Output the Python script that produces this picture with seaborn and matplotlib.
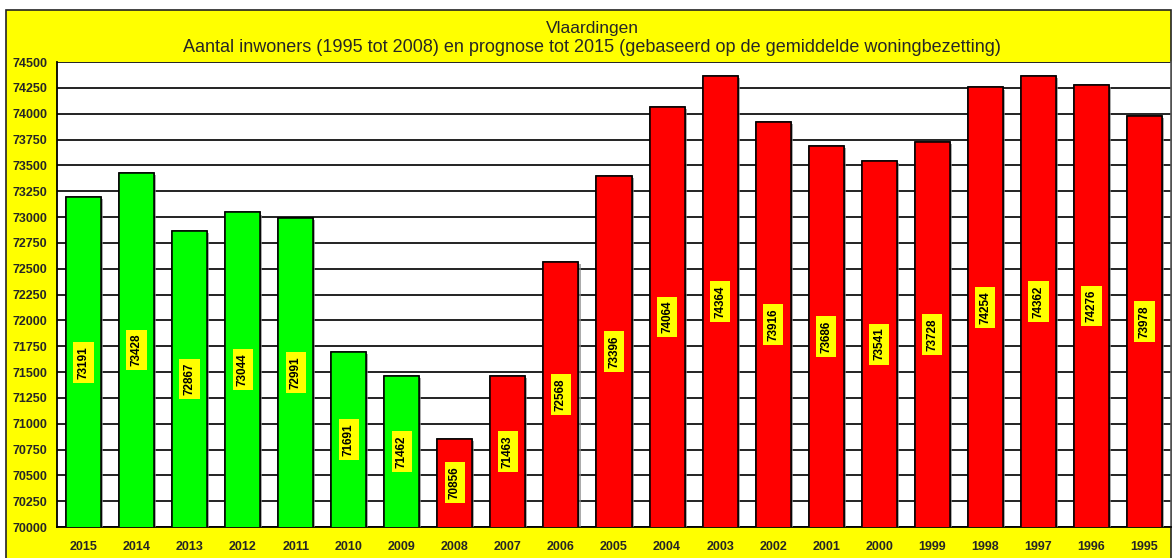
import matplotlib
matplotlib.use("Agg")
import matplotlib.pyplot as plt
import matplotlib.patches as mpatches
import matplotlib.patheffects as pe
import pandas as pd
import seaborn as sns

# data
jaren = ["2015", "2014", "2013", "2012", "2011", "2010", "2009", "2008", "2007", "2006", "2005",
         "2004", "2003", "2002", "2001", "2000", "1999", "1998", "1997", "1996", "1995"]
inwoners = [73191, 73428, 72867, 73044, 72991, 71691, 71462, 70856, 71463, 72568, 73396,
            74064, 74364, 73916, 73686, 73541, 73728, 74254, 74362, 74276, 73978]
soort = ["prognose"] * 7 + ["werkelijk"] * 14
kleuren = {"prognose": "#00FF00", "werkelijk": "#FF0000"}

titel = "Vlaardingen"
subtitel = "Aantal inwoners (1995 tot 2008) en prognose tot 2015 (gebaseerd op de gemiddelde woningbezetting)"

df = pd.DataFrame({"jaar": jaren, "inwoners": inwoners, "soort": soort})

sns.set_style("white")
plt.rcParams["font.family"] = ["Liberation Sans", "DejaVu Sans"]

W, H = 1174, 558
fig = plt.figure(figsize=(W / 100, H / 100), dpi=100)
fig.patch.set_facecolor("white")

# yellow chart frame
frame = mpatches.Rectangle((6 / W, -0.05), (1171 - 6) / W, (H - 10) / H + 0.05,
                           transform=fig.transFigure, facecolor="#FFFF00",
                           edgecolor="#222222", linewidth=1.2, zorder=-5)
fig.patches.append(frame)

left, right, top, bottom = 57, 1171, 62, 527
ax = fig.add_axes([left / W, 1 - bottom / H, (right - left) / W, (bottom - top) / H])
ax.set_zorder(2)
ax.set_facecolor("white")

sns.barplot(data=df, x="jaar", y="inwoners", hue="soort", palette=kleuren, dodge=False,
            saturation=1, width=0.66, edgecolor="black", linewidth=1.1, legend=False,
            ax=ax, zorder=3)
for bar in ax.patches:
    bar.set_path_effects([pe.withSimplePatchShadow(offset=(1.5, -1.5), shadow_rgbFace="#888888", alpha=0.7),
                          pe.Normal()])

ax.set_ylim(70000, 74500)
ax.set_xlim(-0.5, len(jaren) - 0.5)
ax.set_yticks(range(70000, 74501, 250))
ax.yaxis.grid(True, color="#111111", linewidth=1.3, zorder=0)
ax.set_axisbelow(True)

ax.set_xticks(range(len(jaren)))
ax.set_xticklabels(jaren, fontsize=9, fontweight="bold")
ax.set_xticks([i - 0.5 for i in range(len(jaren) + 1)], minor=True)
ax.tick_params(axis="x", which="major", length=0, pad=10)
ax.tick_params(axis="x", which="minor", length=4, width=1.2, color="black", direction="out")
ax.tick_params(axis="y", length=5, width=1.2, color="black", direction="out", pad=2,
               labelsize=9)
for lab in ax.get_yticklabels():
    lab.set_fontweight("bold")
ax.set_xlabel("")
ax.set_ylabel("")

for s in ["left", "bottom"]:
    ax.spines[s].set_color("black")
    ax.spines[s].set_linewidth(1.3)
ax.spines["top"].set_visible(False)
ax.spines["right"].set_color("#555555")
ax.spines["right"].set_linewidth(1.2)

# value labels in the middle of each bar
for i, v in enumerate(inwoners):
    ax.text(i, (70000 + v) / 2, str(v), rotation=90, ha="center", va="center",
            fontsize=8.5, fontweight="bold", color="black", zorder=5,
            bbox=dict(facecolor="#FFFF00", edgecolor="none", pad=3))

fig.text(592 / W, 1 - 28 / H, titel, ha="center", va="center", fontsize=12.5)
fig.text(592 / W, 1 - 48 / H, subtitel, ha="center", va="center", fontsize=13)

fig.savefig("out.png", dpi=100)
